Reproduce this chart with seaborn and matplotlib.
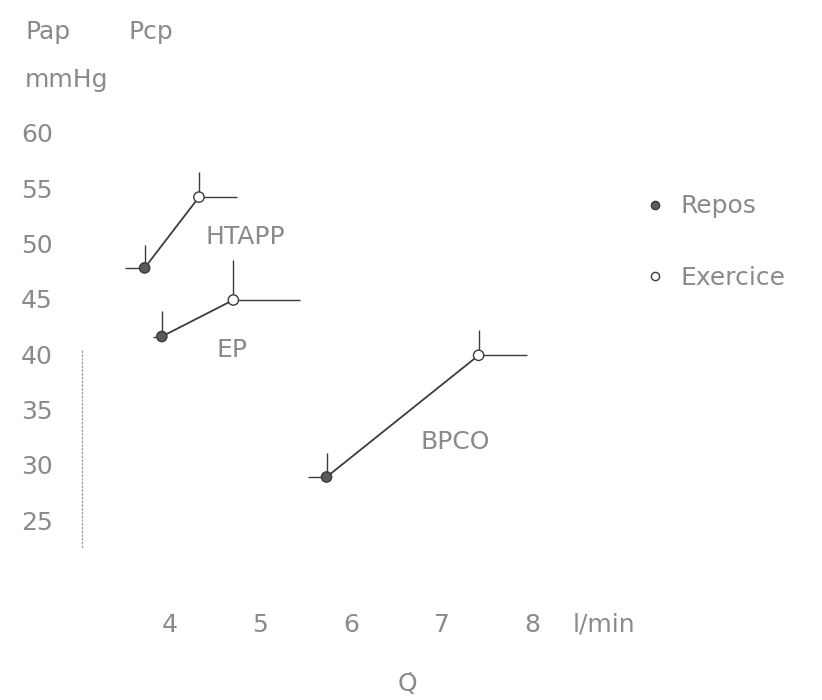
import numpy as np
import pandas as pd
import matplotlib
matplotlib.use("Agg")
import matplotlib.pyplot as plt
import seaborn as sns

# valeurs (Q en l/min, pression en mmHg)
groupes = ["HTAPP", "EP", "BPCO"]
q_repos = [3.72, 3.91, 5.73]
p_repos = [47.8, 41.6, 28.9]
q_exercice = [4.32, 4.70, 7.41]
p_exercice = [54.2, 44.9, 39.9]
# demi-barres : vers le haut et vers le cote
haut_repos = [2.1, 2.3, 2.2]
cote_repos = [0.22, 0.10, 0.21]
haut_exercice = [2.3, 3.6, 2.3]
cote_exercice = [0.42, 0.74, 0.53]

ytick_vals = [25, 30, 35, 40, 45, 50, 55, 60]
xtick_vals = [4, 5, 6, 7, 8]

# positions des etiquettes de groupe
lab_x = [4.83, 4.69, 7.15]
lab_y = [50.6, 40.4, 32.1]

sns.set_theme(style="white")
plt.rcParams["font.family"] = ["DejaVu Sans"]

GRIS = "#8a8a8a"
TRAIT = "#3c3c3c"

df = pd.DataFrame({
    "groupe": groupes * 2,
    "Q": q_repos + q_exercice,
    "P": p_repos + p_exercice,
    "etat": ["Repos"] * 3 + ["Exercice"] * 3,
})

fig = plt.figure(figsize=(8.22, 7.0), dpi=100)
ax = fig.add_axes([82 / 822, 100 / 700, 740 / 822, 500 / 700])

sns.lineplot(data=df, x="Q", y="P", units="groupe", estimator=None, sort=False,
             color=TRAIT, lw=1.3, ax=ax, legend=False)

z = np.zeros(3)
ax.errorbar(q_repos, p_repos, yerr=[z, haut_repos], xerr=[cote_repos, z],
            fmt="none", ecolor=TRAIT, elinewidth=1.0, capsize=0)
ax.errorbar(q_exercice, p_exercice, yerr=[z, haut_exercice], xerr=[z, cote_exercice],
            fmt="none", ecolor=TRAIT, elinewidth=1.0, capsize=0)

sns.scatterplot(data=df, x="Q", y="P", hue="etat",
                palette={"Repos": "#5a5a5a", "Exercice": "white"},
                edgecolor=TRAIT, linewidth=1.0, s=55, zorder=3, ax=ax)

for g, x, y in zip(groupes, lab_x, lab_y):
    ax.text(x, y, g, fontsize=18, color=GRIS, ha="center", va="center")

ax.set_xlim(3.028, 11.204)
ax.set_ylim(17.78, 62.98)

ax.set_yticks(ytick_vals)
ax.set_yticklabels([str(v) for v in ytick_vals])
ax.set_xticks(xtick_vals)
ax.set_xticklabels([str(v) for v in xtick_vals])
ax.tick_params(axis="y", length=0, pad=21, labelsize=18, labelcolor=GRIS)
ax.tick_params(axis="x", length=0, pad=9, labelsize=18, labelcolor=GRIS)

for s in ["top", "right", "bottom"]:
    ax.spines[s].set_visible(False)
ax.spines["left"].set_bounds(22.6, 40.4)
ax.spines["left"].set_linestyle((0, (1, 2)))
ax.spines["left"].set_color("#9a9a9a")
ax.spines["left"].set_linewidth(0.9)

ax.set_xlabel("Q\u0307", fontsize=18, color=GRIS)
ax.xaxis.set_label_coords((407 - 82) / 740, -0.145)
ax.set_ylabel("")

ax.text(8.45, 15.52, "l/min", fontsize=18, color=GRIS, ha="left", va="center")

fig.text(25 / 822, 1 - 32 / 700, "Pap", fontsize=18, color=GRIS, va="center")
fig.text(128 / 822, 1 - 32 / 700, "Pcp", fontsize=18, color=GRIS, va="center")
fig.text(25 / 822, 1 - 80 / 700, "mmHg", fontsize=18, color=GRIS, va="center")

h, l = ax.get_legend_handles_labels()
ax.legend(h, l, loc="upper left", bbox_to_anchor=(620 / 822, 1 - 172 / 700),
          bbox_transform=fig.transFigure, frameon=False, fontsize=18,
          labelcolor=GRIS, labelspacing=1.9, handletextpad=0.5,
          handlelength=1.0, markerscale=0.8)

fig.savefig("out.png", dpi=100)
